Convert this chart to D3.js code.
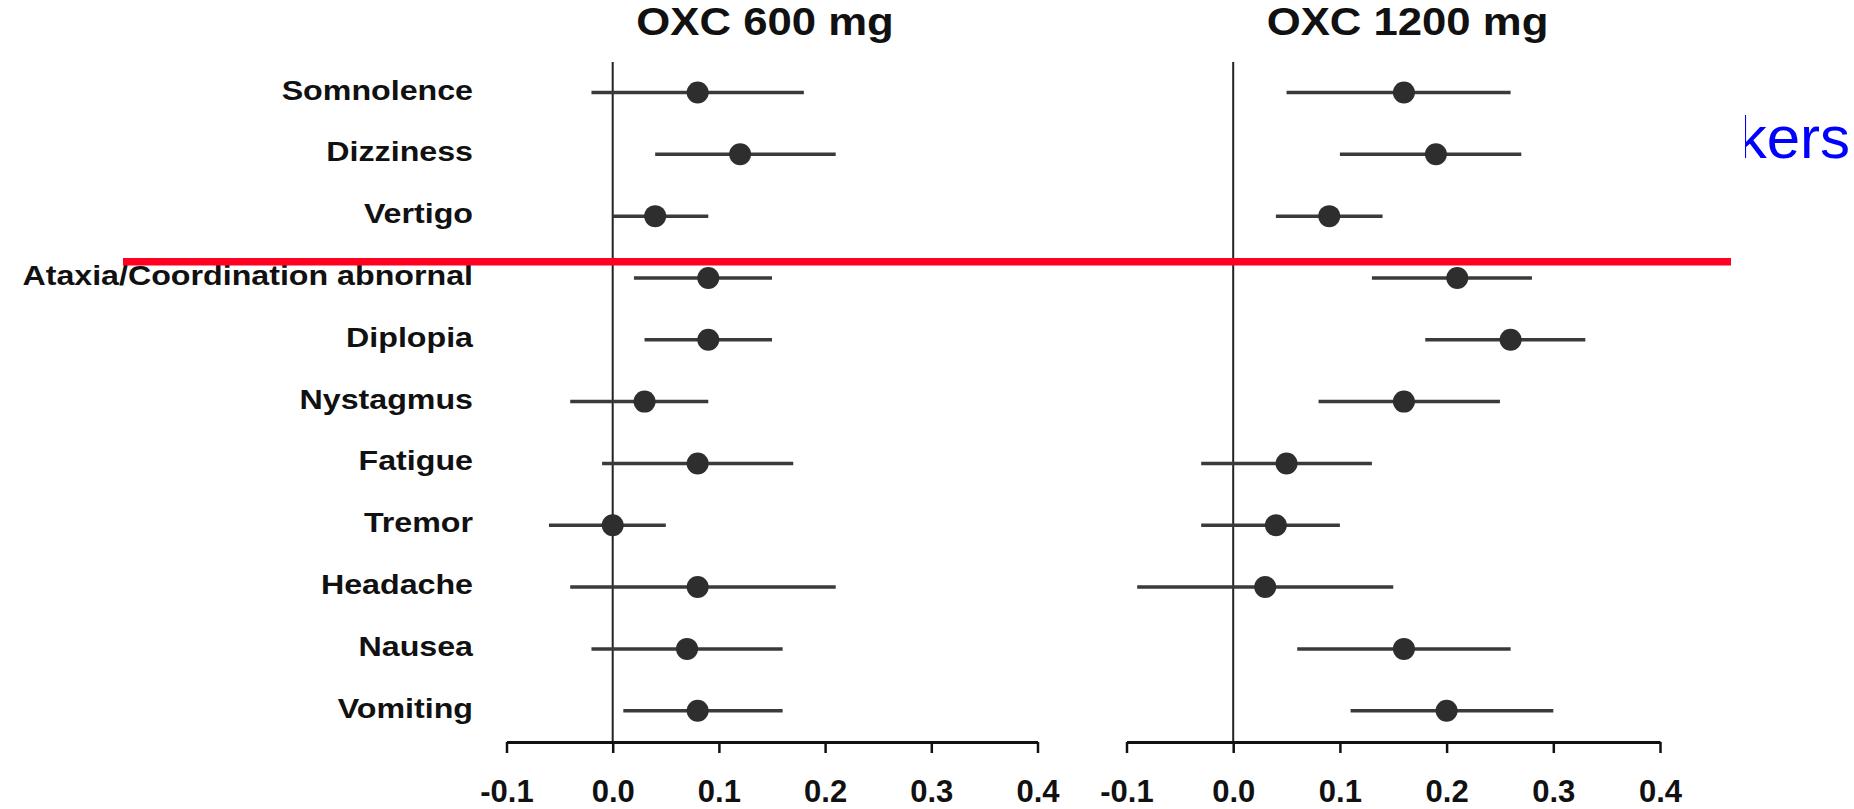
<!DOCTYPE html>
<html>
<head>
<meta charset="utf-8">
<script src="https://cdn.jsdelivr.net/npm/d3@7"></script>
<style>
  body { margin: 0; background: #fff; }
  svg { display: block; font-family: "Liberation Sans", Arial, sans-serif; }
</style>
</head>
<body>
<script>
// adverse events, rows top to bottom
var categories = ["Somnolence", "Dizziness", "Vertigo", "Ataxia/Coordination abnornal", "Diplopia",
  "Nystagmus", "Fatigue", "Tremor", "Headache", "Nausea", "Vomiting"];

// OXC 600 mg: estimate with lower / upper limit
var est600 = [0.08, 0.12, 0.04, 0.09, 0.09, 0.03, 0.08, 0.00, 0.08, 0.07, 0.08];
var lo600  = [-0.02, 0.04, 0.00, 0.02, 0.03, -0.04, -0.01, -0.06, -0.04, -0.02, 0.01];
var hi600  = [0.18, 0.21, 0.09, 0.15, 0.15, 0.09, 0.17, 0.05, 0.21, 0.16, 0.16];

// OXC 1200 mg
var est1200 = [0.16, 0.19, 0.09, 0.21, 0.26, 0.16, 0.05, 0.04, 0.03, 0.16, 0.20];
var lo1200  = [0.05, 0.10, 0.04, 0.13, 0.18, 0.08, -0.03, -0.03, -0.09, 0.06, 0.11];
var hi1200  = [0.26, 0.27, 0.14, 0.28, 0.33, 0.25, 0.13, 0.10, 0.15, 0.26, 0.30];

var tickValues = [-0.1, 0.0, 0.1, 0.2, 0.3, 0.4];
var panelTitles = ["OXC 600 mg", "OXC 1200 mg"];

var width = 1854, height = 809;
var axisY = 742;
var zeroTop = 62;
var stretch = 1.15; // the source figure is a bit wider than it is tall

var svg = d3.select("body").append("svg").attr("width", width).attr("height", height);

var y = d3.scalePoint().domain(categories).range([92.5, 710.7]);

var panels = [
  { title: panelTitles[0], titleX: 765, est: est600, lo: lo600, hi: hi600,
    x: d3.scaleLinear().domain([-0.1, 0.4]).range([506.5, 1037.5]) },
  { title: panelTitles[1], titleX: 1407.5, est: est1200, lo: lo1200, hi: hi1200,
    x: d3.scaleLinear().domain([-0.1, 0.4]).range([1126.5, 1660]) }
];

// plain hyphen for negatives, like the source
var fmt = function(d){ return d3.format(".1f")(d).replace("\u2212", "-"); };

// row labels
svg.append("g").selectAll("text")
  .data(categories)
  .enter().append("text")
    .attr("transform", function(d){ return "translate(473," + (y(d) + 7) + ") scale(" + stretch + ",1)"; })
    .attr("text-anchor", "end")
    .attr("font-size", 28)
    .attr("font-weight", "bold")
    .attr("fill", "#111")
    .text(function(d){ return d; });

panels.forEach(function(p){
  var g = svg.append("g");

  g.append("text")
    .attr("transform", "translate(" + p.titleX + ",35) scale(" + stretch + ",1)")
    .attr("text-anchor", "middle")
    .attr("font-size", 38)
    .attr("font-weight", "bold")
    .attr("fill", "#111")
    .text(p.title);

  // zero reference line
  g.append("line")
    .attr("x1", p.x(0)).attr("x2", p.x(0))
    .attr("y1", zeroTop).attr("y2", axisY)
    .attr("stroke", "#222").attr("stroke-width", 2);

  var rows = g.selectAll("g.row")
    .data(categories)
    .enter().append("g")
      .attr("class", "row");

  rows.append("line")
    .attr("x1", function(d, i){ return p.x(p.lo[i]); })
    .attr("x2", function(d, i){ return p.x(p.hi[i]); })
    .attr("y1", function(d){ return y(d); })
    .attr("y2", function(d){ return y(d); })
    .attr("stroke", "#3a3a3a")
    .attr("stroke-width", 3.5);

  rows.append("circle")
    .attr("cx", function(d, i){ return p.x(p.est[i]); })
    .attr("cy", function(d){ return y(d); })
    .attr("r", 11)
    .attr("fill", "#2e2e2e");

  var axis = g.append("g")
    .attr("transform", "translate(0," + axisY + ")")
    .call(d3.axisBottom(p.x)
      .tickValues(tickValues)
      .tickFormat(fmt)
      .tickSize(11)
      .tickSizeOuter(0)
      .tickPadding(27));

  axis.select(".domain").attr("stroke", "#111").attr("stroke-width", 3);
  axis.selectAll(".tick line").attr("stroke", "#111").attr("stroke-width", 2.5);
  axis.selectAll(".tick text")
    .attr("font-size", 31)
    .attr("font-weight", "bold")
    .attr("font-family", "Liberation Sans, Arial, sans-serif")
    .attr("fill", "#111");
});

// red rule drawn across the figure
svg.append("rect")
  .attr("x", 123).attr("y", 258)
  .attr("width", 1731 - 123).attr("height", 7.5)
  .attr("fill", "#ff0020");

// clipped blue caption at the right edge
svg.append("clipPath").attr("id", "capClip")
  .append("rect").attr("x", 1745).attr("y", 80).attr("width", 120).attr("height", 120);

svg.append("text")
  .attr("clip-path", "url(#capClip)")
  .attr("x", 1850).attr("y", 158)
  .attr("text-anchor", "end")
  .attr("font-size", 60)
  .attr("fill", "#0000ff")
  .text("kers");
</script>
</body>
</html>
